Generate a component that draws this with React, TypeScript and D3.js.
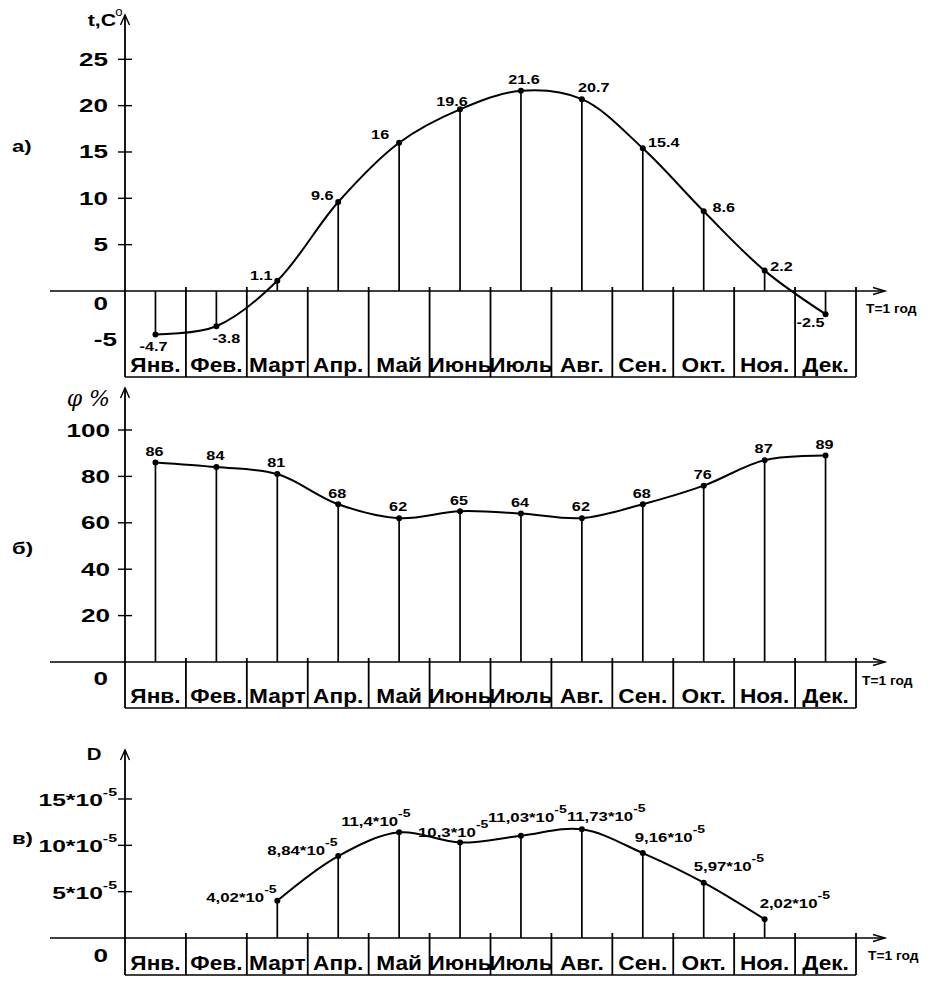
import React from "react";
import * as d3 from "d3";

const months = ["Янв.", "Фев.", "Март", "Апр.", "Май", "Июнь", "Июль", "Авг.", "Сен.", "Окт.", "Ноя.", "Дек."];
const tempValues = [-4.7, -3.8, 1.1, 9.6, 16, 19.6, 21.6, 20.7, 15.4, 8.6, 2.2, -2.5];
const humidityValues = [86, 84, 81, 68, 62, 65, 64, 62, 68, 76, 87, 89];
const diffMonths = ["Март", "Апр.", "Май", "Июнь", "Июль", "Авг.", "Сен.", "Окт.", "Ноя."];
const diffValues = [4.02, 8.84, 11.4, 10.3, 11.03, 11.73, 9.16, 5.97, 2.02];
const tempTicks = [5, 10, 15, 20, 25];
const humidityTicks = [20, 40, 60, 80, 100];
const diffTicks = [5, 10, 15];

// label placement (dx, dy of label centre relative to the point)
const tempLabelOffsets: [number, number][] = [
  [-2, 12], [10, 12], [-16, -5], [-16, -6], [-19, -8], [-8, -8],
  [3, -11], [12, -11], [21, -6], [20, -4], [17, -4], [-15, 9],
];
const diffLabelOffsets: [number, number][] = [
  [-71, -3], [-71, -5], [-58, -11], [-42, -10], [-33, -18], [-15, -13], [-8, -15], [-10, -16], [-5, -16],
];

const FONT = "'Liberation Sans', Arial, sans-serif";

function Txt(props: {
  x: number; y: number; size: number; sx?: number; anchor?: string; weight?: string;
  style?: string; family?: string; children: React.ReactNode;
}) {
  const { x, y, size, sx = 1.4, anchor = "middle", weight = "bold", style, family = FONT, children } = props;
  return (
    <text
      transform={`translate(${x},${y}) scale(${sx},1)`}
      fontSize={size}
      fontWeight={weight}
      fontStyle={style}
      textAnchor={anchor as any}
      fontFamily={family}
      fill="#000"
    >
      {children}
    </text>
  );
}

const X0 = 125;
const X1 = 856;
const x = d3.scaleBand<string>().domain(months).range([X0, X1]).paddingInner(0).paddingOuter(0);
const cx = (m: string) => (x(m) as number) + x.bandwidth() / 2;

const yA = d3.scaleLinear().domain([0, 25]).range([291, 59.3]);
const yB = d3.scaleLinear().domain([0, 100]).range([662, 430]);
const yC = d3.scaleLinear().domain([0, 15]).range([938, 799]);

function Frame(props: { axisY: number; top: number; bottom: number; dividerTop: number }) {
  const { axisY, top, bottom, dividerTop } = props;
  const boundaries = months.map((m) => x(m) as number).concat([X1]).slice(1);
  return (
    <g stroke="#000" fill="none">
      {/* x axis */}
      <line x1={50} x2={885} y1={axisY} y2={axisY} strokeWidth={1.6} />
      <path d={`M873,${axisY - 3.5} L885,${axisY} L873,${axisY + 3.5}`} strokeWidth={1.4} />
      {/* y axis */}
      <line x1={X0} x2={X0} y1={top} y2={bottom} strokeWidth={1.8} />
      <path d={`M${X0 - 4.5},${top + 10} L${X0},${top} L${X0 + 4.5},${top + 10}`} strokeWidth={1.4} />
      {/* month cells */}
      {boundaries.map((b, i) => (
        <line key={i} x1={b} x2={b} y1={dividerTop} y2={bottom} strokeWidth={1.8} />
      ))}
      <line x1={X0} x2={X1} y1={bottom} y2={bottom} strokeWidth={1.6} />
    </g>
  );
}

function MonthLabels(props: { baseline: number }) {
  return (
    <g>
      {months.map((m) => (
        <Txt key={m} x={cx(m)} y={props.baseline} size={21} sx={1.08}>
          {m}
        </Txt>
      ))}
    </g>
  );
}

function Stems(props: { ms: string[]; vals: number[]; y: d3.ScaleLinear<number, number> }) {
  const { ms, vals, y } = props;
  return (
    <g>
      {ms.map((m, i) => (
        <line key={m} x1={cx(m)} x2={cx(m)} y1={y(0)} y2={y(vals[i])} stroke="#000" strokeWidth={1.7} />
      ))}
      {ms.map((m, i) => (
        <circle key={"c" + m} cx={cx(m)} cy={y(vals[i])} r={3} fill="#000" />
      ))}
    </g>
  );
}

function Curve(props: { ms: string[]; vals: number[]; y: d3.ScaleLinear<number, number> }) {
  const { ms, vals, y } = props;
  const line = d3
    .line<number>()
    .x((_, i) => cx(ms[i]))
    .y((v) => y(v))
    .curve(d3.curveCatmullRom.alpha(0.5));
  return <path d={line(vals) || ""} fill="none" stroke="#000" strokeWidth={2} />;
}

function TickMarks(props: { ticks: number[]; y: d3.ScaleLinear<number, number> }) {
  return (
    <g stroke="#000" strokeWidth={1.4}>
      {props.ticks.map((t) => (
        <line key={t} x1={X0 - 7} x2={X0 + 7} y1={props.y(t)} y2={props.y(t)} />
      ))}
    </g>
  );
}

export default function App() {
  const fmtComma = (v: number) => String(v).replace(".", ",");
  return (
    <svg
      width={932}
      height={985}
      viewBox="0 0 932 985"
      style={{ position: "absolute", left: 0, top: 0, background: "#fff" }}
    >
      <rect x={0} y={0} width={932} height={985} fill="#fff" />

      {/* ---------- Panel a ---------- */}
      <Frame axisY={yA(0)} top={15} bottom={377} dividerTop={287} />
      <TickMarks ticks={tempTicks} y={yA} />
      {tempTicks.map((t) => (
        <Txt key={t} x={108} y={yA(t) + 6.5} size={18} sx={1.45} anchor="end">
          {t}
        </Txt>
      ))}
      <Txt x={108} y={309.5} size={18} sx={1.45} anchor="end">0</Txt>
      <Txt x={117} y={345.5} size={18} sx={1.45} anchor="end">-5</Txt>
      <Txt x={116} y={26} size={17} sx={1.25} anchor="end">t,C</Txt>
      <Txt x={119} y={16} size={12} sx={1.1} weight="normal">o</Txt>
      <Txt x={12} y={152} size={17} sx={1.3} anchor="start">а)</Txt>
      <Stems ms={months} vals={tempValues} y={yA} />
      <Curve ms={months} vals={tempValues} y={yA} />
      {months.map((m, i) => (
        <Txt
          key={m}
          x={cx(m) + tempLabelOffsets[i][0]}
          y={yA(tempValues[i]) + tempLabelOffsets[i][1] + 4.3}
          size={12}
          sx={1.35}
        >
          {String(tempValues[i])}
        </Txt>
      ))}
      <MonthLabels baseline={372} />
      <Txt x={866} y={313} size={12} sx={1.15} anchor="start">T=1 год</Txt>

      {/* ---------- Panel b ---------- */}
      <Frame axisY={yB(0)} top={388} bottom={708} dividerTop={658} />
      <TickMarks ticks={humidityTicks} y={yB} />
      {humidityTicks.map((t) => (
        <Txt key={t} x={110} y={yB(t) + 6.5} size={18} sx={1.45} anchor="end">
          {t}
        </Txt>
      ))}
      <Txt x={108} y={684.5} size={18} sx={1.45} anchor="end">0</Txt>
      <Txt x={110} y={406} size={22} sx={1.0} anchor="end" weight="normal" style="italic" family="'DejaVu Serif', serif">
        φ %
      </Txt>
      <Txt x={12} y={554} size={17} sx={1.3} anchor="start">б)</Txt>
      <Stems ms={months} vals={humidityValues} y={yB} />
      <Curve ms={months} vals={humidityValues} y={yB} />
      {months.map((m, i) => (
        <Txt key={m} x={cx(m) - 1} y={yB(humidityValues[i]) - 11 + 4.3} size={12} sx={1.35}>
          {String(humidityValues[i])}
        </Txt>
      ))}
      <MonthLabels baseline={703} />
      <Txt x={862} y={685} size={12} sx={1.15} anchor="start">T=1 год</Txt>

      {/* ---------- Panel c ---------- */}
      <Frame axisY={yC(0)} top={750} bottom={975} dividerTop={933} />
      <TickMarks ticks={diffTicks} y={yC} />
      {diffTicks.map((t) => (
        <Txt key={t} x={117} y={yC(t) + 7} size={17} sx={1.45} anchor="end">
          <tspan>{t}*10</tspan>
          <tspan dy={-10} fontSize={11}>-5</tspan>
        </Txt>
      ))}
      <Txt x={108} y={961.5} size={18} sx={1.45} anchor="end">0</Txt>
      <Txt x={94} y={760} size={17} sx={1.2}>D</Txt>
      <Txt x={12} y={844} size={17} sx={1.3} anchor="start">в)</Txt>
      <Stems ms={diffMonths} vals={diffValues} y={yC} />
      <Curve ms={diffMonths} vals={diffValues} y={yC} />
      {diffMonths.map((m, i) => (
        <Txt
          key={m}
          x={cx(m) + diffLabelOffsets[i][0]}
          y={yC(diffValues[i]) + diffLabelOffsets[i][1] + 4.3}
          size={12}
          sx={1.4}
          anchor="start"
        >
          <tspan>{fmtComma(diffValues[i])}*10</tspan>
          <tspan dy={-9} fontSize={10}>-5</tspan>
        </Txt>
      ))}
      <MonthLabels baseline={970} />
      <Txt x={868} y={960} size={12} sx={1.15} anchor="start">T=1 год</Txt>
    </svg>
  );
}
